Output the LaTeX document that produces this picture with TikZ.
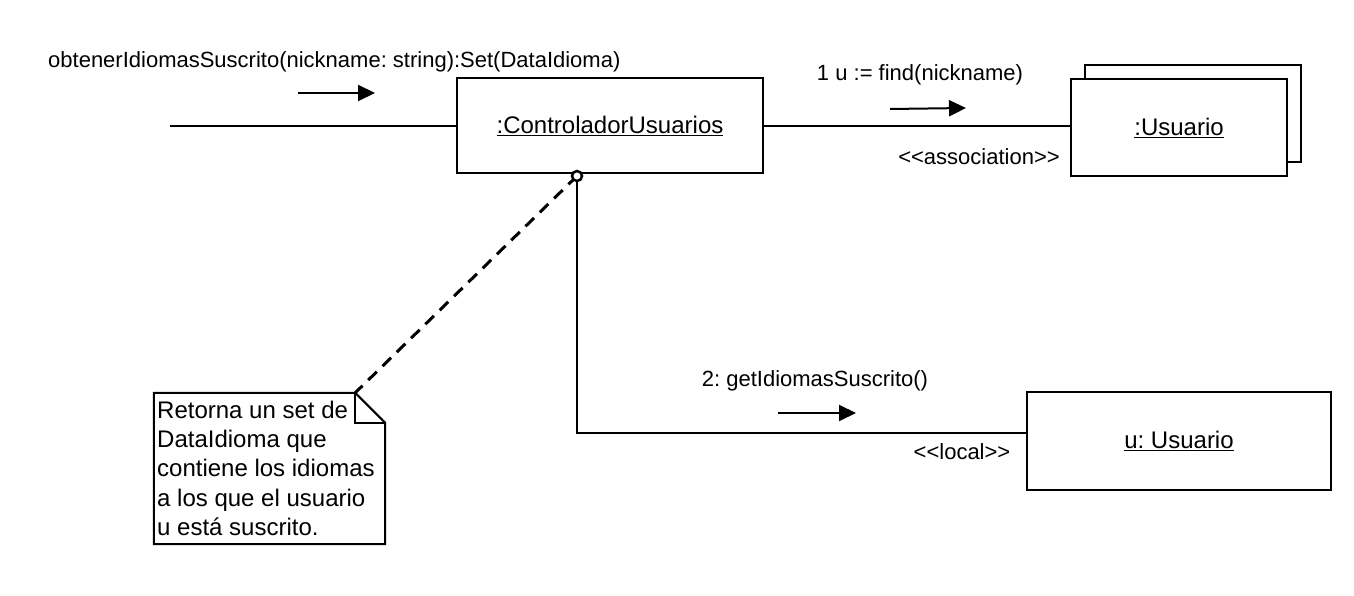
\documentclass[tikz,border=0pt]{standalone}
\usepackage{fontspec}
\setmainfont{Liberation Sans}
\usetikzlibrary{positioning,arrows.meta,calc}
\frenchspacing

\begin{document}
\begin{tikzpicture}[x=1pt, y=-1pt,
    objbox/.style={draw, line width=2pt, fill=white, inner sep=0pt, font=\fontsize{24}{29}\selectfont},
    msglabel/.style={font=\fontsize{22}{26}\selectfont, inner sep=0pt},
    msgarrow/.style={-{Triangle[length=17pt,width=16pt]}, line width=2pt},
    link/.style={line width=2pt}
]
\useasboundingbox (0,0) rectangle (1354,596);

% CONTROLLER
\node[msglabel, anchor=west] (callLbl) at (48,62) {obtenerIdiomasSuscrito(nickname: string):Set(DataIdioma)};
\coordinate (callA) at (298,93);
\coordinate (callB) at (375,93);
\draw[msgarrow] (callA) -- (callB);
\node[objbox, minimum width=306pt, minimum height=95pt] (ctrl) at (610,126) {\underline{:ControladorUsuarios}};
\coordinate (caller) at (170,126);
\draw[link] (caller) -- (ctrl.west);
\coordinate (hub) at (577,176);

% FIND USUARIO
\node[objbox, minimum width=216pt, minimum height=97pt] (usrBack) at (1193,114) {};
\node[objbox, minimum width=216pt, minimum height=97pt] (usr) at (1179,128) {\underline{:Usuario}};
\draw[link] (ctrl.east) -- (ctrl.east -| usr.west);
\node[msglabel] (findLbl) at (920,75) {1 u := find(nickname)};
\coordinate (findA) at (890,109);
\coordinate (findB) at (966,108);
\draw[msgarrow] (findA) -- (findB);
\node[msglabel] (assocLbl) at (979,157) {<{}<association>{}>};

% LOCAL USUARIO
\node[objbox, minimum width=304pt, minimum height=98pt] (uloc) at (1179,441) {\underline{u: Usuario}};
\draw[link] (hub) |- ([yshift=8pt]uloc.west);
\node[msglabel] (getLbl) at (815,381) {2: getIdiomasSuscrito()};
\coordinate (getA) at (778,413);
\coordinate (getB) at (856,413);
\draw[msgarrow] (getA) -- (getB);
\node[msglabel] (localLbl) at (962,452) {<{}<local>{}>};

% NOTE
\node[minimum width=231pt, minimum height=151pt, inner sep=0pt] (notebox) at (269.5,468.5) {};
\draw[link, fill=white] (notebox.north west) -- ([xshift=-30pt]notebox.north east) -- ([yshift=-30pt]notebox.north east) -- (notebox.south east) -- (notebox.south west) -- cycle;
\draw[link] ([xshift=-30pt]notebox.north east) -- ([xshift=-30pt,yshift=-30pt]notebox.north east) -- ([yshift=-30pt]notebox.north east);
\node[anchor=north west, align=left, inner sep=0pt, font=\fontsize{24}{29.2}\selectfont] (note) at (157,401) {Retorna un set de\\DataIdioma que\\contiene los idiomas\\a los que el usuario\\u está suscrito.};
\draw[line width=3pt, dash pattern=on 12pt off 8pt] (hub) -- ([xshift=-30pt]notebox.north east);
\draw[line width=2.5pt, fill=white] (hub) circle (5pt);

\end{tikzpicture}
\end{document}
